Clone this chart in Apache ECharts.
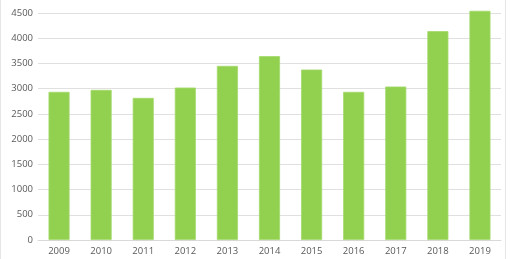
<!DOCTYPE html>
<html><head><meta charset="utf-8">
<script src="https://cdn.jsdelivr.net/npm/echarts@6/dist/echarts.min.js"></script>
<style>html,body{margin:0;padding:0;background:#fff}#c{width:512px;height:259px}</style>
</head><body><div id="c"></div>
<script>
const categories = ['2009','2010','2011','2012','2013','2014','2015','2016','2017','2018','2019'];
const values = [2937, 2976, 2817, 3022, 3452, 3645, 3379, 2937, 3042, 4141, 4544];
const yTicks = {min: 0, max: 4500, interval: 500};
const chart = echarts.init(document.getElementById('c'));
chart.setOption({
  animation: false,
  graphic: [{type:'rect', shape:{x:0.5,y:-1,width:505,height:262}, style:{fill:'none', stroke:'#e6e6e6', lineWidth:1}, silent:true}],
  grid: {left: 38, right: 11, top: 13, bottom: 19},
  xAxis: {type: 'category', data: categories,
    axisLine: {lineStyle: {color: '#d9d9d9'}}, axisTick: {show: false},
    axisLabel: {color: '#595959', fontSize: 9.5, fontFamily: 'Open Sans', margin: 6}},
  yAxis: {type: 'value', min: yTicks.min, max: yTicks.max, interval: yTicks.interval,
    axisLine: {show: false}, axisTick: {show: false},
    splitLine: {lineStyle: {color: '#e0e0e0'}},
    axisLabel: {color: '#595959', fontSize: 9.5, fontFamily: 'Open Sans', margin: 5, formatter: v => String(v)}},
  series: [{type: 'bar', data: values, barWidth: '50%', clip: false,
    itemStyle: {color: '#92d050', borderColor: '#a3d96b', borderWidth: 0.8}}]
});
</script></body></html>
